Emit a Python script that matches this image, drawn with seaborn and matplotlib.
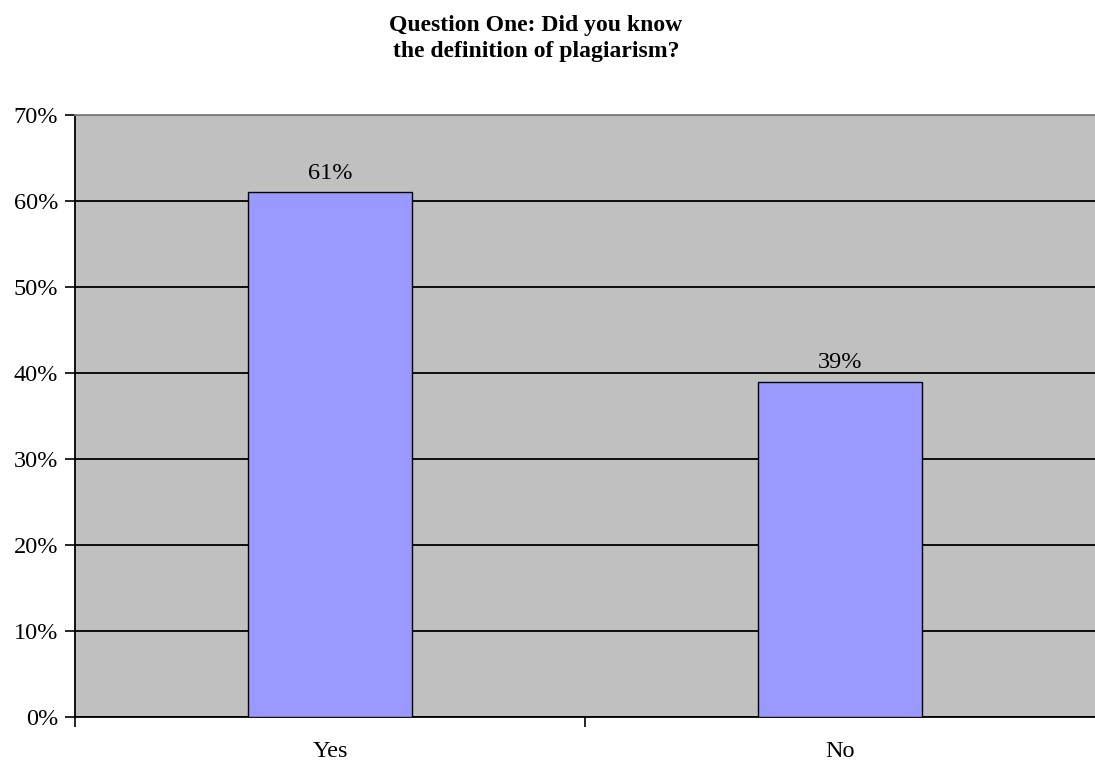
import matplotlib
matplotlib.use("Agg")
import matplotlib.pyplot as plt
import seaborn as sns
import pandas as pd
from matplotlib.ticker import PercentFormatter

# Survey responses
answers = ["Yes", "No"]
shares = [61, 39]
value_labels = ["61%", "39%"]

sns.set_theme(style="white")
plt.rcParams["font.family"] = ["Liberation Serif", "DejaVu Serif"]
plt.rcParams["text.color"] = "black"
plt.rcParams["xtick.color"] = "black"
plt.rcParams["ytick.color"] = "black"

df = pd.DataFrame({"answer": answers, "share": shares})

fig = plt.figure(figsize=(10.95, 7.63), dpi=100)
ax = fig.add_axes([75 / 1095, 46 / 763, 1 - 75 / 1095, (717 - 115) / 763])
ax.set_facecolor("#C0C0C0")

sns.barplot(data=df, x="answer", y="share", color="#9999FF", width=0.32,
            edgecolor="black", linewidth=1.0, saturation=1, ax=ax, zorder=3)

ax.set_xlim(-0.5, 1.5)
ax.set_ylim(0, 70)
ax.set_yticks(range(0, 71, 10))
ax.yaxis.set_major_formatter(PercentFormatter(decimals=0))
ax.set_xlabel("")
ax.set_ylabel("")

ax.grid(axis="y", color="black", linewidth=1.3, zorder=1)
ax.set_axisbelow(True)

for spine in ["left", "bottom"]:
    ax.spines[spine].set_color("black")
    ax.spines[spine].set_linewidth(1.3)
ax.spines["top"].set_color("#808080")
ax.spines["top"].set_linewidth(1.3)
ax.spines["right"].set_visible(False)

ax.tick_params(axis="y", which="major", left=True, length=7, width=1.2,
               color="black", labelcolor="black", labelsize=17.5, pad=5)
ax.tick_params(axis="x", which="major", bottom=False, labelcolor="black",
               labelsize=17.5, pad=11)

# category separators on the x axis
ax.set_xticks([-0.5, 0.5], minor=True)
ax.tick_params(axis="x", which="minor", bottom=True, length=7, width=1.2,
               color="black", direction="out")

for container in ax.containers:
    ax.bar_label(container, labels=value_labels, padding=6, fontsize=17.5,
                 color="black")

fig.text(536 / 1095, 1 - 25 / 763, "Question One: Did you know",
         ha="center", va="center", fontsize=17, fontweight="bold", color="black")
fig.text(536 / 1095, 1 - 52 / 763, "the definition of plagiarism?",
         ha="center", va="center", fontsize=17, fontweight="bold", color="black")

fig.savefig("out.png", dpi=100, facecolor="white")
